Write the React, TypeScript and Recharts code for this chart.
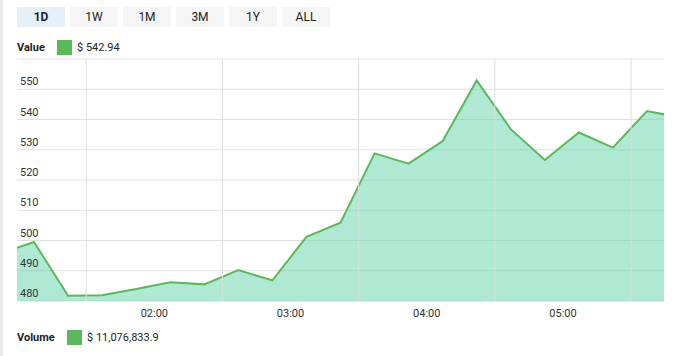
import React from 'react';
import { AreaChart, Area, XAxis, YAxis, CartesianGrid, ReferenceLine, ComposedChart } from 'recharts';

// minutes after midnight for each 15-minute sample
const times = [52, 67, 82, 97, 112, 127, 142, 157, 172, 187, 202, 217, 232, 247, 262, 277, 292, 307, 322, 337, 352];
const values = [495.7, 499.5, 481.7, 481.9, 484.0, 486.2, 485.5, 490.2, 486.8, 501.2, 505.9, 528.8, 525.4, 532.9, 552.9, 536.8, 526.6, 535.7, 530.7, 542.8, 540.6];
const hourTicks = [120, 180, 240, 300];
const halfHourLines = [90, 150, 210, 270, 330];
const valueTicks = [480, 490, 500, 510, 520, 530, 540, 550, 560];
const ranges = ['1D', '1W', '1M', '3M', '1Y', 'ALL'];
const currentValue = '$ 542.94';
const currentVolume = '$ 11,076,833.9';

const GREEN = '#5cb85c';
const FONT = 'Roboto, Arial, sans-serif';

const data = times.map((t, i) => ({ t, value: values[i] }));

const fmtTime = (m: number) => {
  const h = Math.floor(m / 60);
  const mm = m % 60;
  return `${String(h).padStart(2, '0')}:${String(mm).padStart(2, '0')}`;
};

const renderYTick = (props: any) => {
  const { y, payload } = props;
  if (payload.value === 560) return <g />;
  return (
    <text x={20} y={y - 4} fontSize={11} fill="#333" fontFamily={FONT} textAnchor="start">
      {payload.value}
    </text>
  );
};

const LegendRow = ({ label, value, top, swatchLeft }: { label: string; value: string; top: number; swatchLeft: number }) => (
  <div style={{ position: 'absolute', top, left: 17, height: 15, display: 'flex', alignItems: 'center', fontFamily: FONT, fontSize: 11, color: '#222' }}>
    <span style={{ fontWeight: 'bold', width: swatchLeft - 17 }}>{label}</span>
    <span style={{ width: 15, height: 15, background: GREEN, display: 'inline-block', marginRight: 5 }} />
    <span>{value}</span>
  </div>
);

export default function App() {
  return (
    <div style={{ position: 'relative', width: 675, height: 356, overflow: 'hidden', background: '#fff' }}>
      <style>{`body{margin:0}`}</style>
      <div style={{ position: 'absolute', left: 0, top: 0, width: 3, height: 356, background: '#e8e8e8' }} />

      {ranges.map((r, i) => (
        <div
          key={r}
          style={{
            position: 'absolute', top: 7, left: 17 + i * 53, width: 48, height: 20,
            background: i === 0 ? '#e5f0fa' : '#f5f5f5', color: '#222',
            fontFamily: FONT, fontSize: 12, fontWeight: i === 0 ? 'bold' : 'normal',
            display: 'flex', alignItems: 'center', justifyContent: 'center',
          }}
        >
          {r}
        </div>
      ))}

      <LegendRow label="Value" value={currentValue} top={40} swatchLeft={57} />

      <div style={{ position: 'absolute', top: 58, left: 0 }}>
        <AreaChart width={675} height={273} data={data} margin={{ top: 1, right: 11, left: 0, bottom: 0 }}>
          <CartesianGrid vertical={false} stroke="#e0e0e0" />
          {halfHourLines.map(m => (
            <ReferenceLine key={m} x={m} stroke="#dddddd" />
          ))}
          <XAxis
            dataKey="t" type="number" domain={[59.5, 344.5]} allowDataOverflow
            ticks={hourTicks} tickFormatter={fmtTime} axisLine={false} tickLine={false}
            tick={{ fontSize: 11, fill: '#333', fontFamily: FONT }} height={30}
          />
          <YAxis
            type="number" domain={[480, 560]} ticks={valueTicks} width={17}
            axisLine={false} tickLine={false} tick={renderYTick} interval={0}
          />
          <Area
            type="linear" dataKey="value" stroke={GREEN} strokeWidth={2}
            fill="#5fd3a9" fillOpacity={0.5} isAnimationActive={false} dot={false} activeDot={false}
          />
        </AreaChart>
      </div>

      <LegendRow label="Volume" value={currentVolume} top={330} swatchLeft={67} />

      <div style={{ position: 'absolute', top: 347, left: 0 }}>
        <ComposedChart width={675} height={100} data={data} margin={{ top: 1, right: 11, left: 17, bottom: 0 }}>
          <XAxis dataKey="t" type="number" domain={[59.5, 344.5]} allowDataOverflow hide />
          <YAxis type="number" domain={[0, 1]} hide />
          <ReferenceLine y={1} stroke="#e0e0e0" />
          {halfHourLines.map(m => (
            <ReferenceLine key={m} x={m} stroke="#dddddd" />
          ))}
        </ComposedChart>
      </div>
    </div>
  );
}
